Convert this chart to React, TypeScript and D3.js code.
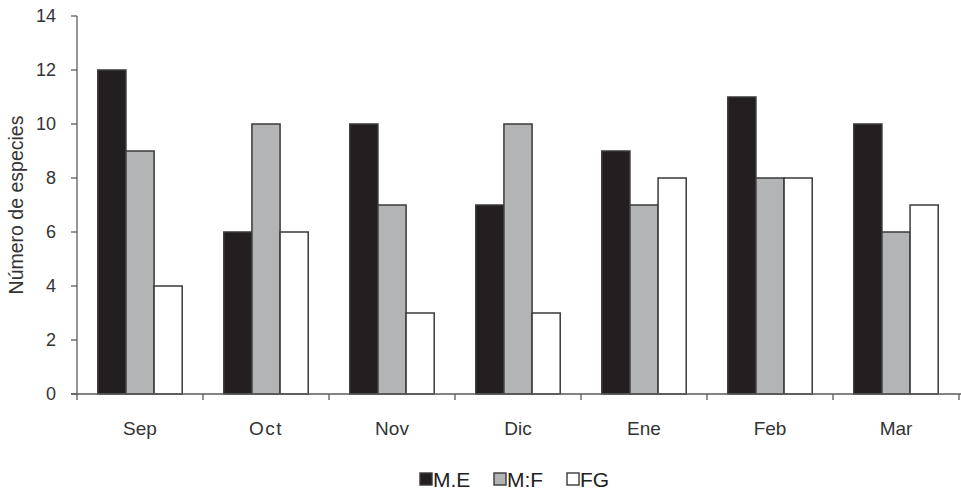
import React from "react";
import * as d3 from "d3";

const categories = ["Sep", "Oct", "Nov", "Dic", "Ene", "Feb", "Mar"];
const seriesNames = ["M.E", "M:F", "FG"];
const valuesME = [12, 6, 10, 7, 9, 11, 10];
const valuesMF = [9, 10, 7, 10, 7, 8, 6];
const valuesFG = [4, 6, 3, 3, 8, 8, 7];
const yTicks = [0, 2, 4, 6, 8, 10, 12, 14];
const colors = ["#231f20", "#b3b4b6", "#ffffff"];

const W = 961, H = 492;
const left = 77, right = 959, top = 16, bottom = 394;
const font = "'Liberation Sans', Arial, sans-serif";

export default function App() {
  const series = [valuesME, valuesMF, valuesFG];
  const x = d3.scaleBand<string>().domain(categories).range([left, right]).paddingInner(0.33).paddingOuter(0.165);
  const xs = d3.scaleBand<string>().domain(seriesNames).range([0, x.bandwidth()]);
  const y = d3.scaleLinear().domain([0, 14]).range([bottom, top]);
  const step = x.step();
  const axisColor = "#5a5a5a";
  return (
    <svg width={W} height={H} style={{ position: "absolute", left: 0, top: 0, background: "#fff" }}>
      {/* y axis */}
      <line x1={left} x2={left} y1={top} y2={bottom} stroke={axisColor} strokeWidth={1.3} />
      {yTicks.map((t) => (
        <g key={t}>
          <line x1={left - 6} x2={left} y1={y(t)} y2={y(t)} stroke={axisColor} strokeWidth={1.3} />
          <text x={56} y={y(t)} dy="0.35em" textAnchor="end" fontFamily={font} fontSize={18} fill="#333">{t}</text>
        </g>
      ))}
      <text transform={`translate(23,${(top + bottom) / 2}) rotate(-90)`} textAnchor="middle" fontFamily={font} fontSize={19.5} fill="#333">Número de especies</text>
      {/* bars */}
      {categories.map((c, i) => (
        <g key={c}>
          {series.map((vals, s) => (
            <rect key={s} x={(x(c) as number) + (xs(seriesNames[s]) as number)} y={y(vals[i])} width={xs.bandwidth()} height={bottom - y(vals[i])}
              fill={colors[s]} stroke="#3a3a3a" strokeWidth={1.5} />
          ))}
          <text x={(x(c) as number) + x.bandwidth() / 2} y={435} textAnchor="middle" fontFamily={font} fontSize={19} letterSpacing={c === "Oct" ? 1.5 : 0} fill="#333">{c}</text>
        </g>
      ))}
      {/* x axis */}
      <line x1={left - 6} x2={right + 2} y1={bottom} y2={bottom} stroke={axisColor} strokeWidth={1.3} />
      {d3.range(categories.length + 1).map((k) => (
        <line key={k} x1={left + k * step} x2={left + k * step} y1={bottom} y2={bottom + 6} stroke={axisColor} strokeWidth={1.3} />
      ))}
      {/* legend */}
      {seriesNames.map((n, s) => {
        const lx = [420, 494, 567][s];
        return (
          <g key={n}>
            <rect x={lx} y={473} width={12} height={12} fill={colors[s]} stroke="#3a3a3a" strokeWidth={1.4} />
            <text x={lx + 13} y={487} fontFamily={font} fontSize={21} fill="#222">{n}</text>
          </g>
        );
      })}
    </svg>
  );
}
